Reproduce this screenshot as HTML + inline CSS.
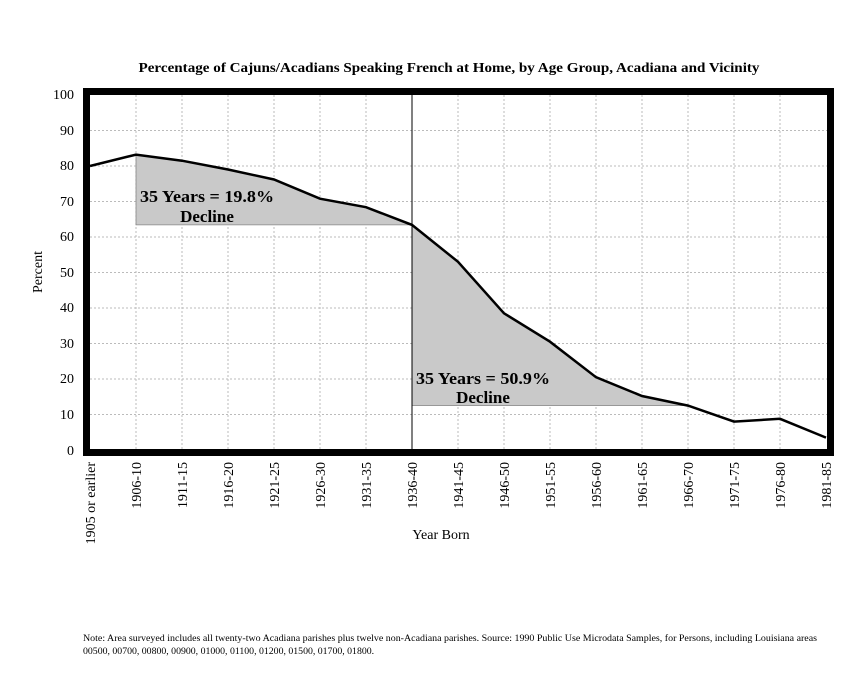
<!DOCTYPE html>
<html><head><meta charset="utf-8"><style>body{margin:0;background:#fff}svg{display:block}</style></head><body>
<svg width="867" height="673" xmlns="http://www.w3.org/2000/svg" font-family="Liberation Serif, serif">
<rect width="867" height="673" fill="#fff"/>
<text x="449" y="72" text-anchor="middle" font-size="14" font-weight="bold" textLength="621" lengthAdjust="spacingAndGlyphs">Percentage of Cajuns/Acadians Speaking French at Home, by Age Group, Acadiana and Vicinity</text>
<g stroke="#bbb" stroke-width="1" stroke-dasharray="2,2">
<line x1="90" x2="827" y1="414.5" y2="414.5"/><line x1="90" x2="827" y1="379" y2="379"/><line x1="90" x2="827" y1="343.5" y2="343.5"/><line x1="90" x2="827" y1="308" y2="308"/><line x1="90" x2="827" y1="272.5" y2="272.5"/><line x1="90" x2="827" y1="237" y2="237"/><line x1="90" x2="827" y1="201.5" y2="201.5"/><line x1="90" x2="827" y1="166" y2="166"/><line x1="90" x2="827" y1="130.5" y2="130.5"/>
<line x1="136" x2="136" y1="95" y2="450"/><line x1="182" x2="182" y1="95" y2="450"/><line x1="228" x2="228" y1="95" y2="450"/><line x1="274" x2="274" y1="95" y2="450"/><line x1="320" x2="320" y1="95" y2="450"/><line x1="366" x2="366" y1="95" y2="450"/><line x1="458" x2="458" y1="95" y2="450"/><line x1="504" x2="504" y1="95" y2="450"/><line x1="550" x2="550" y1="95" y2="450"/><line x1="596" x2="596" y1="95" y2="450"/><line x1="642" x2="642" y1="95" y2="450"/><line x1="688" x2="688" y1="95" y2="450"/><line x1="734" x2="734" y1="95" y2="450"/><line x1="780" x2="780" y1="95" y2="450"/>
</g>
<polygon fill="#c9c9c9" stroke="#888" stroke-width="0.8" points="136,154.6 182,160.7 228,169.5 274,179.5 320,198.7 366,207.2 412,224.9 412,224.9 136,224.9"/>
<polygon fill="#c9c9c9" stroke="#888" stroke-width="0.8" points="412,224.9 458,261.8 504,313.3 550,341.7 596,377.2 642,396 688,405.6 412,405.6"/>
<line x1="412" x2="412" y1="95" y2="450" stroke="#000" stroke-width="1"/>
<polyline fill="none" stroke="#000" stroke-width="2.5" points="90,166 136,154.6 182,160.7 228,169.5 274,179.5 320,198.7 366,207.2 412,224.9 458,261.8 504,313.3 550,341.7 596,377.2 642,396 688,405.6 734,421.6 780,418.8 826,437.6"/>
<text x="207" y="202" text-anchor="middle" font-size="17" font-weight="bold" textLength="134" lengthAdjust="spacingAndGlyphs">35 Years = 19.8%</text>
<text x="207" y="222" text-anchor="middle" font-size="17" font-weight="bold">Decline</text>
<text x="483" y="384" text-anchor="middle" font-size="17" font-weight="bold" textLength="134" lengthAdjust="spacingAndGlyphs">35 Years = 50.9%</text>
<text x="483" y="403" text-anchor="middle" font-size="17" font-weight="bold">Decline</text>
<rect x="86.5" y="91.5" width="744" height="361" fill="none" stroke="#000" stroke-width="7"/>
<g font-size="14" text-anchor="end">
<text x="74" y="99">100</text><text x="74" y="135">90</text><text x="74" y="170">80</text><text x="74" y="206">70</text><text x="74" y="241">60</text><text x="74" y="277">50</text><text x="74" y="312">40</text><text x="74" y="348">30</text><text x="74" y="383">20</text><text x="74" y="419">10</text><text x="74" y="455">0</text>
</g>
<text transform="translate(42,272) rotate(-90)" text-anchor="middle" font-size="14">Percent</text>
<g font-size="14" text-anchor="end">
<text transform="translate(95,462) rotate(-90)">1905 or earlier</text>
<text transform="translate(141,462) rotate(-90)">1906-10</text>
<text transform="translate(187,462) rotate(-90)">1911-15</text>
<text transform="translate(233,462) rotate(-90)">1916-20</text>
<text transform="translate(279,462) rotate(-90)">1921-25</text>
<text transform="translate(325,462) rotate(-90)">1926-30</text>
<text transform="translate(371,462) rotate(-90)">1931-35</text>
<text transform="translate(417,462) rotate(-90)">1936-40</text>
<text transform="translate(463,462) rotate(-90)">1941-45</text>
<text transform="translate(509,462) rotate(-90)">1946-50</text>
<text transform="translate(555,462) rotate(-90)">1951-55</text>
<text transform="translate(601,462) rotate(-90)">1956-60</text>
<text transform="translate(647,462) rotate(-90)">1961-65</text>
<text transform="translate(693,462) rotate(-90)">1966-70</text>
<text transform="translate(739,462) rotate(-90)">1971-75</text>
<text transform="translate(785,462) rotate(-90)">1976-80</text>
<text transform="translate(831,462) rotate(-90)">1981-85</text>
</g>
<text x="441" y="539" text-anchor="middle" font-size="14">Year Born</text>
<text x="83" y="641" font-size="9.8" textLength="734" lengthAdjust="spacingAndGlyphs">Note: Area surveyed includes all twenty-two Acadiana parishes plus twelve non-Acadiana parishes.  Source: 1990 Public Use Microdata Samples, for Persons, including Louisiana areas</text>
<text x="83" y="654" font-size="9.8">00500, 00700, 00800, 00900, 01000, 01100, 01200, 01500, 01700, 01800.</text>
</svg>
</body></html>
